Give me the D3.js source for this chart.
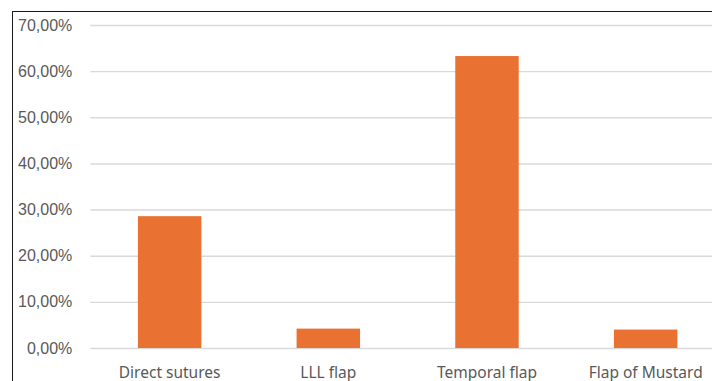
<!DOCTYPE html>
<html>
<head>
<meta charset="utf-8">
<script src="https://cdn.jsdelivr.net/npm/d3@7"></script>
<style>
  html, body { margin: 0; padding: 0; background: #fff; }
  svg { display: block; }
</style>
</head>
<body>
<svg id="chart" width="712" height="381"></svg>
<script>
// Share of repair techniques
const categories = ["Direct sutures", "LLL flap", "Temporal flap", "Flap of Mustard"];
const shares = [0.2857, 0.0420, 0.6327, 0.0400];
const yTicks = [0, 0.1, 0.2, 0.3, 0.4, 0.5, 0.6, 0.7];

const svg = d3.select("#chart");

// Plot area geometry
const plotLeft = 90.3, plotRight = 725, plotTop = 25, plotBottom = 348;

const x = d3.scaleBand()
  .domain(categories)
  .range([plotLeft, plotRight])
  .paddingInner(0.6)
  .paddingOuter(0.3);

const y = d3.scaleLinear()
  .domain([0, 0.7])
  .range([plotBottom, plotTop]);

const fmt = v => (v * 100).toFixed(2).replace(".", ",") + "%";

// Chart frame (top and left edges visible)
svg.append("rect")
  .attr("x", 12.5).attr("y", 11.5)
  .attr("width", 720).attr("height", 400)
  .attr("fill", "none")
  .attr("stroke", "#1a1a1a")
  .attr("stroke-width", 1);

// Horizontal gridlines + value axis labels
const yAxis = d3.axisLeft(y)
  .tickValues(yTicks)
  .tickFormat(fmt)
  .tickSize(-(plotRight - plotLeft))
  .tickPadding(18);

const gy = svg.append("g")
  .attr("transform", `translate(${plotLeft},0)`)
  .call(yAxis);
gy.select(".domain").remove();
gy.selectAll(".tick line")
  .attr("stroke", "#d9d9d9")
  .attr("stroke-width", 1.4);
gy.selectAll(".tick text")
  .attr("fill", "#595959")
  .style("font-family", "'Liberation Sans', Arial, sans-serif")
  .style("font-size", "16px");

// Bars
svg.append("g")
  .selectAll("rect")
  .data(categories.map((c, i) => ({ c, v: shares[i] })))
  .join("rect")
  .attr("x", d => x(d.c))
  .attr("width", x.bandwidth())
  .attr("y", d => y(d.v))
  .attr("height", d => y(0) - y(d.v))
  .attr("fill", "#E97132");

// Category axis labels
const xAxis = d3.axisBottom(x).tickSize(0).tickPadding(19);
const gx = svg.append("g")
  .attr("transform", `translate(0,${plotBottom})`)
  .call(xAxis);
gx.select(".domain").remove();
gx.selectAll(".tick text")
  .attr("fill", "#595959")
  .style("font-family", "'Noto Sans', sans-serif")
  .style("font-size", "15.5px");
</script>
</body>
</html>
